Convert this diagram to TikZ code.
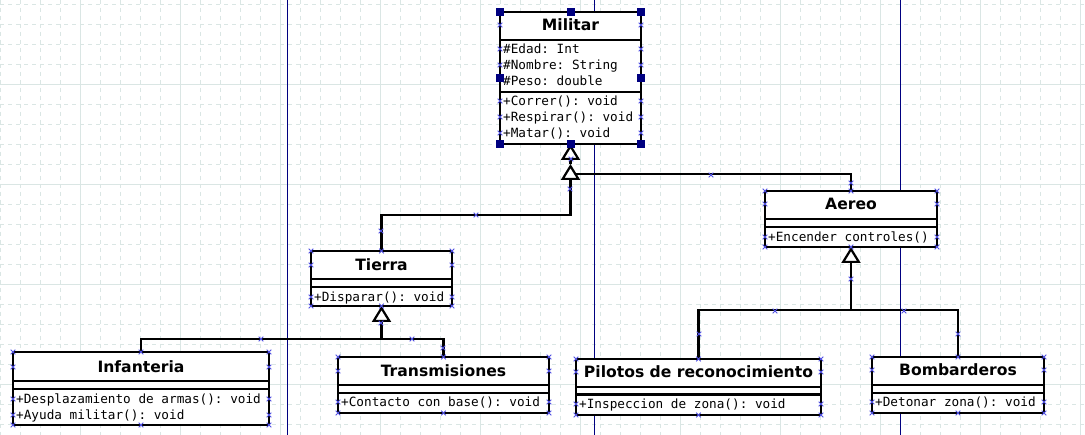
\documentclass[tikz,border=0pt]{standalone}
\usepackage{fontspec}
\usetikzlibrary{arrows.meta}
\newfontfamily\ttlfnt{DejaVu Sans}
\newfontfamily\monofnt{DejaVu Sans Mono}
\frenchspacing
\definecolor{navyc}{RGB}{0,0,128}
\definecolor{gridc}{RGB}{218,230,228}
\definecolor{xmc}{RGB}{80,80,225}
\tikzset{
  gridd/.style={draw=gridc, line width=1pt, dash pattern=on 4pt off 4pt},
  grids/.style={draw=gridc, line width=1pt},
  pageline/.style={draw=navyc, line width=1pt},
  box/.style={draw, line width=2.2pt, fill=white, inner sep=0pt, outer sep=0pt, anchor=north west},
  ttl/.style={font=\ttlfnt\bfseries\fontsize{15.6}{18}\selectfont, anchor=base, inner sep=0pt},
  mem/.style={font=\monofnt\fontsize{12.7}{15}\selectfont, anchor=base west, inner sep=0pt},
  divl/.style={line width=2.2pt},
  conn/.style={line width=2.2pt},
  inh/.style={conn, -{Triangle[length=16pt,width=19pt,fill=white,line width=2.2pt]}},
  handle/.style={fill=navyc, draw=none, minimum size=8pt, inner sep=0pt},
  xmk/.style={draw=xmc, line width=0.8pt},
  pics/xm/.style={code={\draw[xmk] (-2.3pt,-2.3pt)--(2.3pt,2.3pt) (-2.3pt,2.3pt)--(2.3pt,-2.3pt);}}
}
\newcommand\bmarks[5]{%
  \foreach \yy in {#5}{\pic at (#1,\yy) {xm}; \pic at (#3,\yy) {xm};}
  \pic at ({(#1+#3)/2},#2) {xm};
  \pic at ({(#1+#3)/2},#4) {xm};
}
\begin{document}
\begin{tikzpicture}[x=1pt,y=-1pt]
\useasboundingbox (0,0) rectangle (1085,435);
\fill[white] (0,0) rectangle (1085,435);
% grid
\foreach \x in {0,20,...,1080} \draw[gridd] (\x,0) -- (\x,435);
\foreach \y in {5,25,...,425} \draw[gridd] (0,\y) -- (1085,\y);
\foreach \x in {80,180,...,1080} \draw[grids] (\x,0) -- (\x,435);
\foreach \y in {85,185,...,385} \draw[grids] (0,\y) -- (1085,\y);
% page lines
\draw[pageline] (287,0) -- (287,435);
\draw[pageline] (594,0) -- (594,435);
\draw[pageline] (900,0) -- (900,435);

% ---------- Militar
\node[box, minimum width=141pt, minimum height=132pt] (Militar) at (500,12) {};
\draw[divl] (500,40) -- (641,40);
\draw[divl] (500,92) -- (641,92);
\node[ttl] (mt) at (570.5,30.7) {Militar};
\node[mem] (ma1) at (503,53.6) {\#Edad: Int};
\node[mem] (ma2) at (503,69.6) {\#Nombre: String};
\node[mem] (ma3) at (503,85.6) {\#Peso: double};
\node[mem] (mm1) at (503,105.6) {+Correr(): void};
\node[mem] (mm2) at (503,121.6) {+Respirar(): void};
\node[mem] (mm3) at (503,137.6) {+Matar(): void};

% ---------- Tierra
\node[box, minimum width=141pt, minimum height=55pt] (Tierra) at (311,251) {};
\draw[divl] (311,279) -- (452,279);
\draw[divl] (311,287) -- (452,287);
\node[ttl] (tt) at (381.5,270.7) {Tierra};
\node[mem] (tm1) at (314,301.3) {+Disparar(): void};

% ---------- Infanteria
\node[box, minimum width=256pt, minimum height=73pt] (Infanteria) at (13,352) {};
\draw[divl] (13,381) -- (269,381);
\draw[divl] (13,389) -- (269,389);
\node[ttl] (it) at (141,372.5) {Infanteria};
\node[mem] (im1) at (16,403.3) {+Desplazamiento de armas(): void};
\node[mem] (im2) at (16,419.6) {+Ayuda militar(): void};

% ---------- Transmisiones
\node[box, minimum width=211pt, minimum height=56pt] (Transmisiones) at (338,357) {};
\draw[divl] (338,385) -- (549,385);
\draw[divl] (338,393) -- (549,393);
\node[ttl] (trt) at (443.5,376.5) {Transmisiones};
\node[mem] (trm1) at (341,406.9) {+Contacto con base(): void};

% ---------- Aereo
\node[box, minimum width=172pt, minimum height=56pt] (Aereo) at (765,191) {};
\draw[divl] (765,219) -- (937,219);
\draw[divl] (765,227) -- (937,227);
\node[ttl] (at) at (851,210) {Aereo};
\node[mem] (am1) at (768,241.6) {+Encender controles()};

% ---------- Pilotos de reconocimiento
\node[box, minimum width=245pt, minimum height=56pt] (Pilotos) at (576,359) {};
\draw[divl] (576,387) -- (821,387);
\draw[divl] (576,394.5) -- (821,394.5);
\node[ttl] (pt) at (698.5,378) {Pilotos de reconocimiento};
\node[mem] (pm1) at (579,408.9) {+Inspeccion de zona(): void};

% ---------- Bombarderos
\node[box, minimum width=172pt, minimum height=56pt] (Bombarderos) at (872,357) {};
\draw[divl] (872,385) -- (1044,385);
\draw[divl] (872,393) -- (1044,393);
\node[ttl] (bt) at (958,375.7) {Bombarderos};
\node[mem] (bm1) at (875,406.9) {+Detonar zona(): void};

% ---------- connectors
\coordinate (jM) at (570.5,164);
\coordinate (jT) at (570.5,215);
\coordinate (jA) at (576,174);
\draw[inh] (jM) -- (Militar.south);
\draw[inh] (Tierra.north) |- (jT) -- (jM);
\draw[conn] (Aereo.north) |- (jA);

\coordinate (jI) at (381.5,339);
\draw[conn] (Infanteria.north) |- (jI);
\draw[conn] (Transmisiones.north) |- (jI);
\draw[inh] (jI) -- (Tierra.south);

\coordinate (jB) at (851,310);
\draw[conn] (Pilotos.north) |- (jB);
\draw[conn] (Bombarderos.north) |- (jB);
\draw[inh] (jB) -- (Aereo.south);

% ---------- connection-point marks
\bmarks{500}{12}{641}{144}{25,49,65,101,117,133}
\bmarks{311}{251}{452}{306}{251,265,297,306}
\bmarks{13}{352}{269}{425}{352,367,399,415,425}
\bmarks{338}{357}{549}{413}{357,371,402,413}
\bmarks{765}{191}{937}{247}{191,204,237,247}
\bmarks{576}{359}{821}{415}{359,372,404,415}
\bmarks{872}{357}{1044}{413}{357,370,402,413}
\foreach \p in {(381,231),(476,215),(570,189),(851,183),(711,175),(261,339),(412,339),(443,348),(381,323),(571,159),(851,279),(775,311),(904,311),(699,334),(958,334)}
  \pic at \p {xm};

% ---------- selection handles
\node[handle] (h1) at (500,12) {};
\node[handle] (h2) at (570.5,12) {};
\node[handle] (h3) at (641,12) {};
\node[handle] (h4) at (500,78) {};
\node[handle] (h5) at (641,78) {};
\node[handle] (h6) at (500,144) {};
\node[handle] (h7) at (570.5,144) {};
\node[handle] (h8) at (641,144) {};
\end{tikzpicture}
\end{document}
